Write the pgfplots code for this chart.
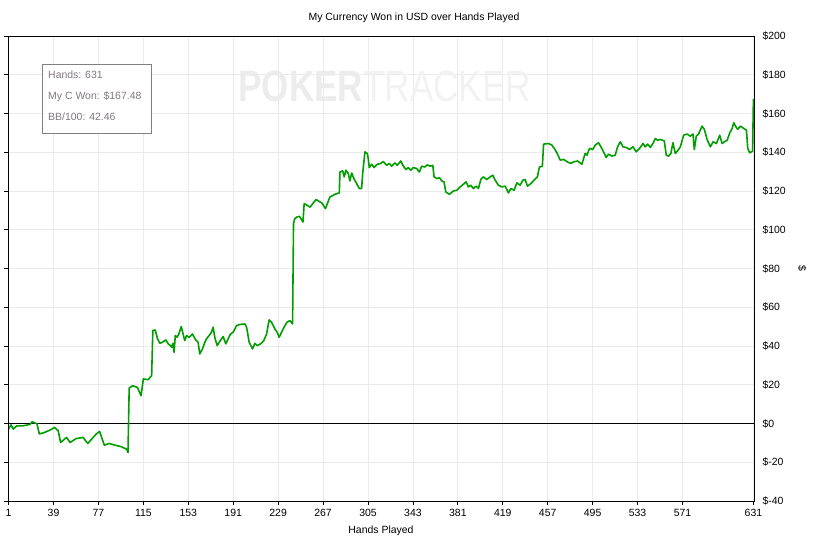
\documentclass[border=0pt]{standalone}
\usepackage{pgfplots}
\pgfplotsset{compat=1.18}
\usepackage{pgfplotstable}
\usepackage{fontspec}
\setmainfont{Liberation Sans}
\definecolor{linegreen}{RGB}{0,158,0}
\definecolor{gridgray}{RGB}{235,235,235}
\definecolor{boxtext}{RGB}{130,120,130}
\definecolor{wm1}{RGB}{236,236,236}
\definecolor{wm2}{RGB}{242,242,242}
\pgfplotstableread{
h v
1 -2.9
3 -0.7
5 -2.9
8 -1.2
13 -1.2
19 -0.5
21 0.9
25 -0.2
27 -5.4
31 -4.7
36 -3.4
40 -2.0
43 -3.8
45 -9.8
50 -7.2
53 -9.8
58 -7.8
64 -7.2
68 -10.3
75 -5.5
78 -4.1
82 -11.2
86 -10.3
91 -11.2
96 -11.9
101 -13.3
102 -15.0
103 18.3
106 19.5
110 18.6
113 14.3
115 23.0
119 22.6
122 24.7
123 48.0
125 48.3
127 43.7
129 41.4
131 41.9
134 43.1
136 41.1
138 40.2
139 39.3
140 41.4
141 36.7
142 45.4
143.5 44.5
145 46.2
147 50.0
148.6 46.2
150 42.8
151.5 45.4
153.7 44.5
156.5 46.2
158 44.5
159.3 43.1
161.3 41.9
162.7 35.9
165 38.5
167 41.9
168.4 43.7
170.6 45.4
172.6 47.1
174 49.7
175.4 44.5
177.4 40.2
179.1 41.9
181.1 43.7
182.5 44.9
184.7 41.1
186.7 43.7
188.7 46.2
190.9 47.1
193.8 50.5
196.6 51.1
200.8 51.4
202.3 49.7
204.5 41.9
207.3 38.5
209.3 41.4
211.2 40.2
214.1 41.1
216.9 42.8
219.2 46.2
221.4 53.5
223.4 52.3
226.2 48.8
228.2 47.1
229.9 44.5
231.9 47.1
234.7 50.5
236.6 52.3
238.9 53.1
241.2 51.4
242 103.2
243 105.7
245 106.6
247 106.9
250 104.0
251 113.5
256 111.7
261 115.6
266 113.8
269 110.9
272.8 116.9
277 118.3
280.7 119.0
281.3 129.8
283.6 130.4
284.9 127.3
286.4 130.7
288.3 129.0
289.7 125.2
291.2 129.3
293.1 126.4
295.4 123.8
297.6 121.3
299.6 121.3
300.5 129.0
302.4 140.2
304.4 139.4
305.2 136.8
306.1 132.1
308.1 133.8
310.1 132.1
312.9 133.8
315.7 134.2
317.9 135.2
320.8 133.3
323 134.2
325 132.8
327.8 134.5
329.8 133.3
332.7 135.5
334.9 132.8
337.2 131.1
339.1 132.1
341.1 130.7
343.3 132.1
346.2 131.6
348.4 129.8
350.4 132.8
353.2 132.4
355.2 133.5
357.5 132.8
359.8 133.2
360.9 127.3
363.2 126.4
365.4 126.9
367.4 125.2
369.3 124.7
370.8 119.5
373.8 118.3
377.2 120.0
380.1 120.4
382.9 122.1
385.7 123.5
388 124.7
389.9 122.1
391.9 123.0
394.1 121.3
396.4 122.5
398.4 121.3
400.4 125.9
402.6 127.3
405.5 125.9
408.3 127.3
410.6 128.1
412.5 125.6
415.3 123.0
418.2 122.1
421 122.5
423.8 119.0
425.8 121.3
428.6 120.4
430.9 124.2
433.7 123.0
436 125.6
437.9 125.9
439.9 122.5
442.7 123.8
445.5 125.6
448.3 127.3
450 132.4
452.5 132.8
453.5 144.2
457.7 144.5
460.5 143.7
462.5 142.0
464.8 139.7
467.6 135.9
470.4 136.3
473.7 135.0
476.6 134.2
478.8 135.0
482.2 135.5
485.9 133.8
488.7 139.4
490.2 138.5
492.4 142.0
495.2 141.4
497.2 143.7
500 144.9
502 142.8
504.2 140.2
506.5 137.3
508.5 139.0
511.3 138.0
514.1 138.5
516.1 142.8
518.4 145.4
520.7 142.8
523.4 142.5
526.2 141.4
529.1 142.8
531.9 140.2
534.7 142.0
537.6 144.5
539.5 142.8
541.5 144.2
543.8 142.5
546 144.5
548 147.1
549.9 146.2
552.2 146.6
555.6 145.9
557.3 138.5
559.2 138.0
561.2 139.4
562.9 144.9
564.9 139.4
566.9 140.7
569.2 142.8
572 148.8
574.8 149.4
577.6 148.3
579.9 149.4
581 141.4
582.7 148.3
584.6 149.4
587.5 153.5
589.5 151.8
591.8 146.6
594.6 142.8
596.9 145.4
599.7 144.5
602.5 148.8
604.5 144.5
606.5 145.4
608.8 146.2
611 150.0
613 152.3
614.4 155.2
615.8 153.5
617.7 151.8
620 153.5
622.8 152.3
625.1 151.4
626.2 142.0
627.9 139.7
629.3 140.2
630.3 140.5
631 167.48
}\datatable
\begin{document}
\begin{tikzpicture}
\begin{axis}[
  name=ax,
  scale only axis,
  width=746bp, height=465bp,
  xmin=0.5, xmax=631.5,
  ymin=-40, ymax=200,
  axis line style={black, line width=0.8bp},
  xtick={1,39,77,115,153,191,229,267,305,343,381,419,457,495,533,571,631},
  ytick={-40,-20,0,20,40,60,80,100,120,140,160,180,200},
  yticklabels={\$-40,\$-20,\$0,\$20,\$40,\$60,\$80,\$100,\$120,\$140,\$160,\$180,\$200},
  /pgf/number format/assume math mode=true,
  yticklabel pos=right,
  tick align=outside,
  tick pos=lower,
  major tick length=4bp,
  tick style={black, line width=0.8bp},
  ticklabel style={font=\fontsize{10.5}{12}\selectfont, text=black},
  xticklabel style={yshift=-1bp},
  yticklabel style={xshift=1bp},
  xmajorgrids, ymajorgrids,
  grid style={gridgray, line width=0.8bp},
  extra y ticks={0},
  extra y tick labels={},
  extra y tick style={grid style={black, line width=0.8bp}, major tick length=0pt},
  clip=true,
]
\node[anchor=center, inner sep=0pt] at (rel axis cs:0.505,0.892)
  {\scalebox{0.8}[1]{\fontsize{44}{44}\selectfont\textcolor{wm1}{\bfseries POKER}\textcolor{wm2}{TRACKER}}};
\addplot[linegreen, line width=1.6bp, line join=round] table[x=h, y=v] {\datatable};
\end{axis}
\draw[black, line width=0.9bp] (ax.south west) rectangle (ax.north east);
% info box
\draw[black!50, line width=0.8bp, fill=white] ([shift={(34bp,-28bp)}]ax.north west) rectangle ([shift={(143bp,-97bp)}]ax.north west);
\begin{scope}[every node/.style={anchor=west, inner sep=0pt, text=boxtext, font=\fontsize{10.5}{12}\selectfont}]
\node at ([shift={(40bp,-39bp)}]ax.north west) {Hands: 631};
\node at ([shift={(40bp,-61bp)}]ax.north west) {My C Won: \$167.48};
\node at ([shift={(40bp,-81bp)}]ax.north west) {BB/100: 42.46};
\end{scope}
% title and labels
\node[font=\fontsize{10.5}{12}\selectfont] at ([shift={(33bp,18bp)}]ax.north) {My Currency Won in USD over Hands Played};
\node[font=\fontsize{10.5}{12}\selectfont] at ([yshift=-30bp]ax.south) {Hands Played};
\node[font=\fontsize{10.5}{12}\selectfont, rotate=-90] at ([xshift=48bp]ax.east) {\$};
\pgfresetboundingbox
\path[use as bounding box] ([shift={(-8bp,-39bp)}]ax.south west) rectangle ++(819bp,540bp);
\end{tikzpicture}
\end{document}
